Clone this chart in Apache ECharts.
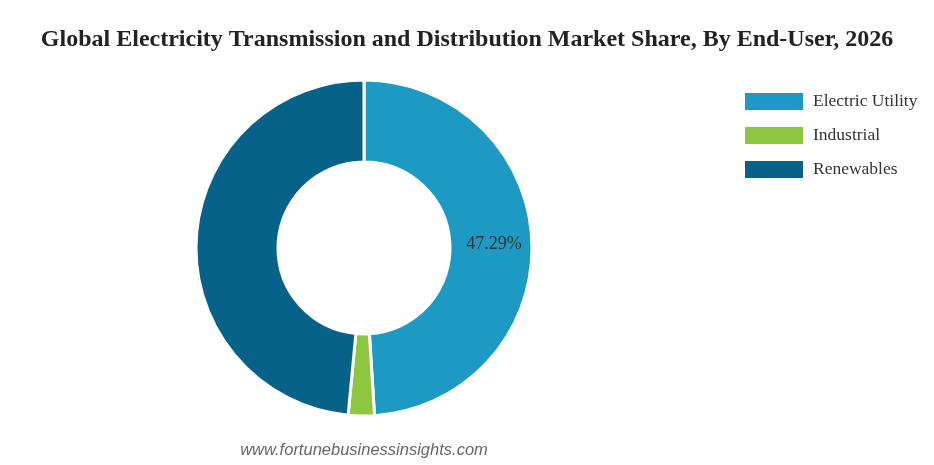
<!DOCTYPE html>
<html>
<head>
<meta charset="utf-8">
<script src="https://cdn.jsdelivr.net/npm/echarts@6/dist/echarts.min.js"></script>
<style>html,body{margin:0;padding:0;background:#fff;}#c{width:934px;height:465px;}</style>
</head>
<body>
<div id="c"></div>
<script>
const categories = ['Electric Utility', 'Industrial', 'Renewables'];
const values = [47.29, 2.42, 46.8];
const colors = ['#1c9ac3', '#8dc63f', '#07628a'];
const labelShown = [true, false, false];

const chart = echarts.init(document.getElementById('c'));
chart.setOption({
  animation: false,
  backgroundColor: '#fff',
  title: {
    text: 'Global Electricity Transmission and Distribution Market Share, By End-User, 2026',
    left: 'center',
    top: 23,
    textStyle: { fontFamily: 'Liberation Serif', fontWeight: 'bold', fontSize: 24, color: '#222' }
  },
  legend: {
    orient: 'vertical',
    left: 743,
    top: 91,
    padding: 0,
    itemWidth: 60,
    itemHeight: 19,
    itemGap: 13,
    icon: 'rect',
    data: categories,
    textStyle: { fontFamily: 'Liberation Serif', fontSize: 17.5, color: '#333', padding: [0, 0, 0, 4] }
  },
  graphic: [{
    type: 'text',
    style: {
      text: 'www.fortunebusinessinsights.com',
      x: 364, y: 450,
      align: 'center', verticalAlign: 'middle',
      font: 'italic 16.5px "Liberation Sans"',
      fill: '#666'
    }
  }],
  series: [{
    type: 'pie',
    center: [364, 248],
    radius: [86, 168],
    startAngle: 90,
    clockwise: true,
    avoidLabelOverlap: false,
    itemStyle: { borderColor: '#fff', borderWidth: 3 },
    label: {
      position: 'inside',
      formatter: '{c}%',
      fontFamily: 'Liberation Serif',
      fontSize: 18,
      color: '#333'
    },
    labelLine: { show: false },
    emphasis: { disabled: true },
    data: categories.map((n, i) => ({
      name: n,
      value: values[i],
      itemStyle: { color: colors[i] },
      label: { show: labelShown[i] }
    }))
  }]
});
</script>
</body>
</html>
